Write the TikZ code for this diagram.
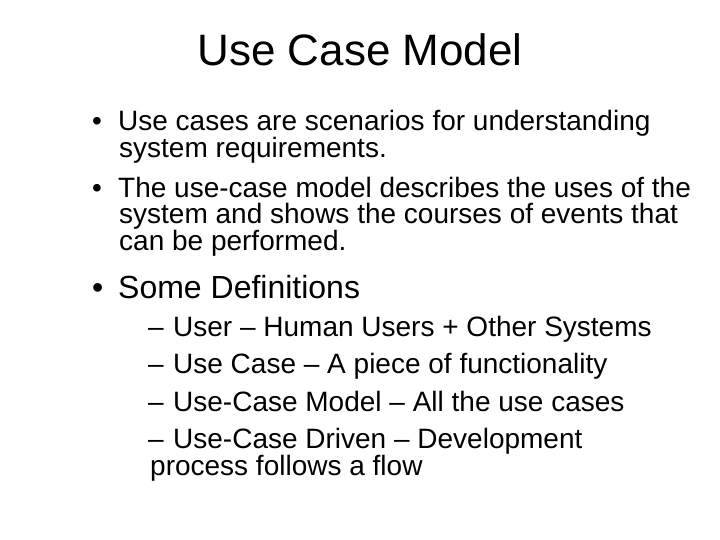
\documentclass[tikz,border=0pt]{standalone}
\usepackage{fontspec}
\setmainfont{Liberation Sans}
\tikzset{
  line/.style={anchor=base west, inner sep=0pt, font=\fontsize{28}{32}\selectfont},
  subline/.style={line, font=\fontsize{28}{32}\selectfont},
  big/.style={line, font=\fontsize{32}{36}\selectfont},
  title/.style={anchor=base, inner sep=0pt, font=\fontsize{44}{50}\selectfont}
}
\begin{document}
\begin{tikzpicture}[x=1pt,y=-1pt]
\useasboundingbox (0,0) rectangle (720,540);
\node[title] (head) at (360,66) {Use Case Model};
% first bullets
\node[line] (b1) at (92,131) {•};
\node[line] (t1) at (118,131) {Use cases are scenarios for understanding};
\node[line] (t1b) at (119,158) {system requirements.};
\node[line] (b2) at (92,197) {•};
\node[line] (t2) at (118,197) {The use-case model describes the uses of the};
\node[line] (t2b) at (119,224) {system and shows the courses of events that};
\node[line] (t2c) at (119,251) {can be performed.};
% definitions
\node[big] (b3) at (92,298) {•};
\node[big] (t3) at (118,298) {Some Definitions};
\foreach \y/\txt [count=\i] in {336/{User – Human Users + Other Systems},
    373/{Use Case – A piece of functionality},
    411/{Use-Case Model – All the use cases},
    448/{Use-Case Driven – Development}} {
  \node[subline] (d\i) at (148,\y) {–};
  \node[subline] (s\i) at (173,\y) {\txt};
}
\node[subline] (s5) at (150,475) {process follows a flow};
\end{tikzpicture}
\end{document}
